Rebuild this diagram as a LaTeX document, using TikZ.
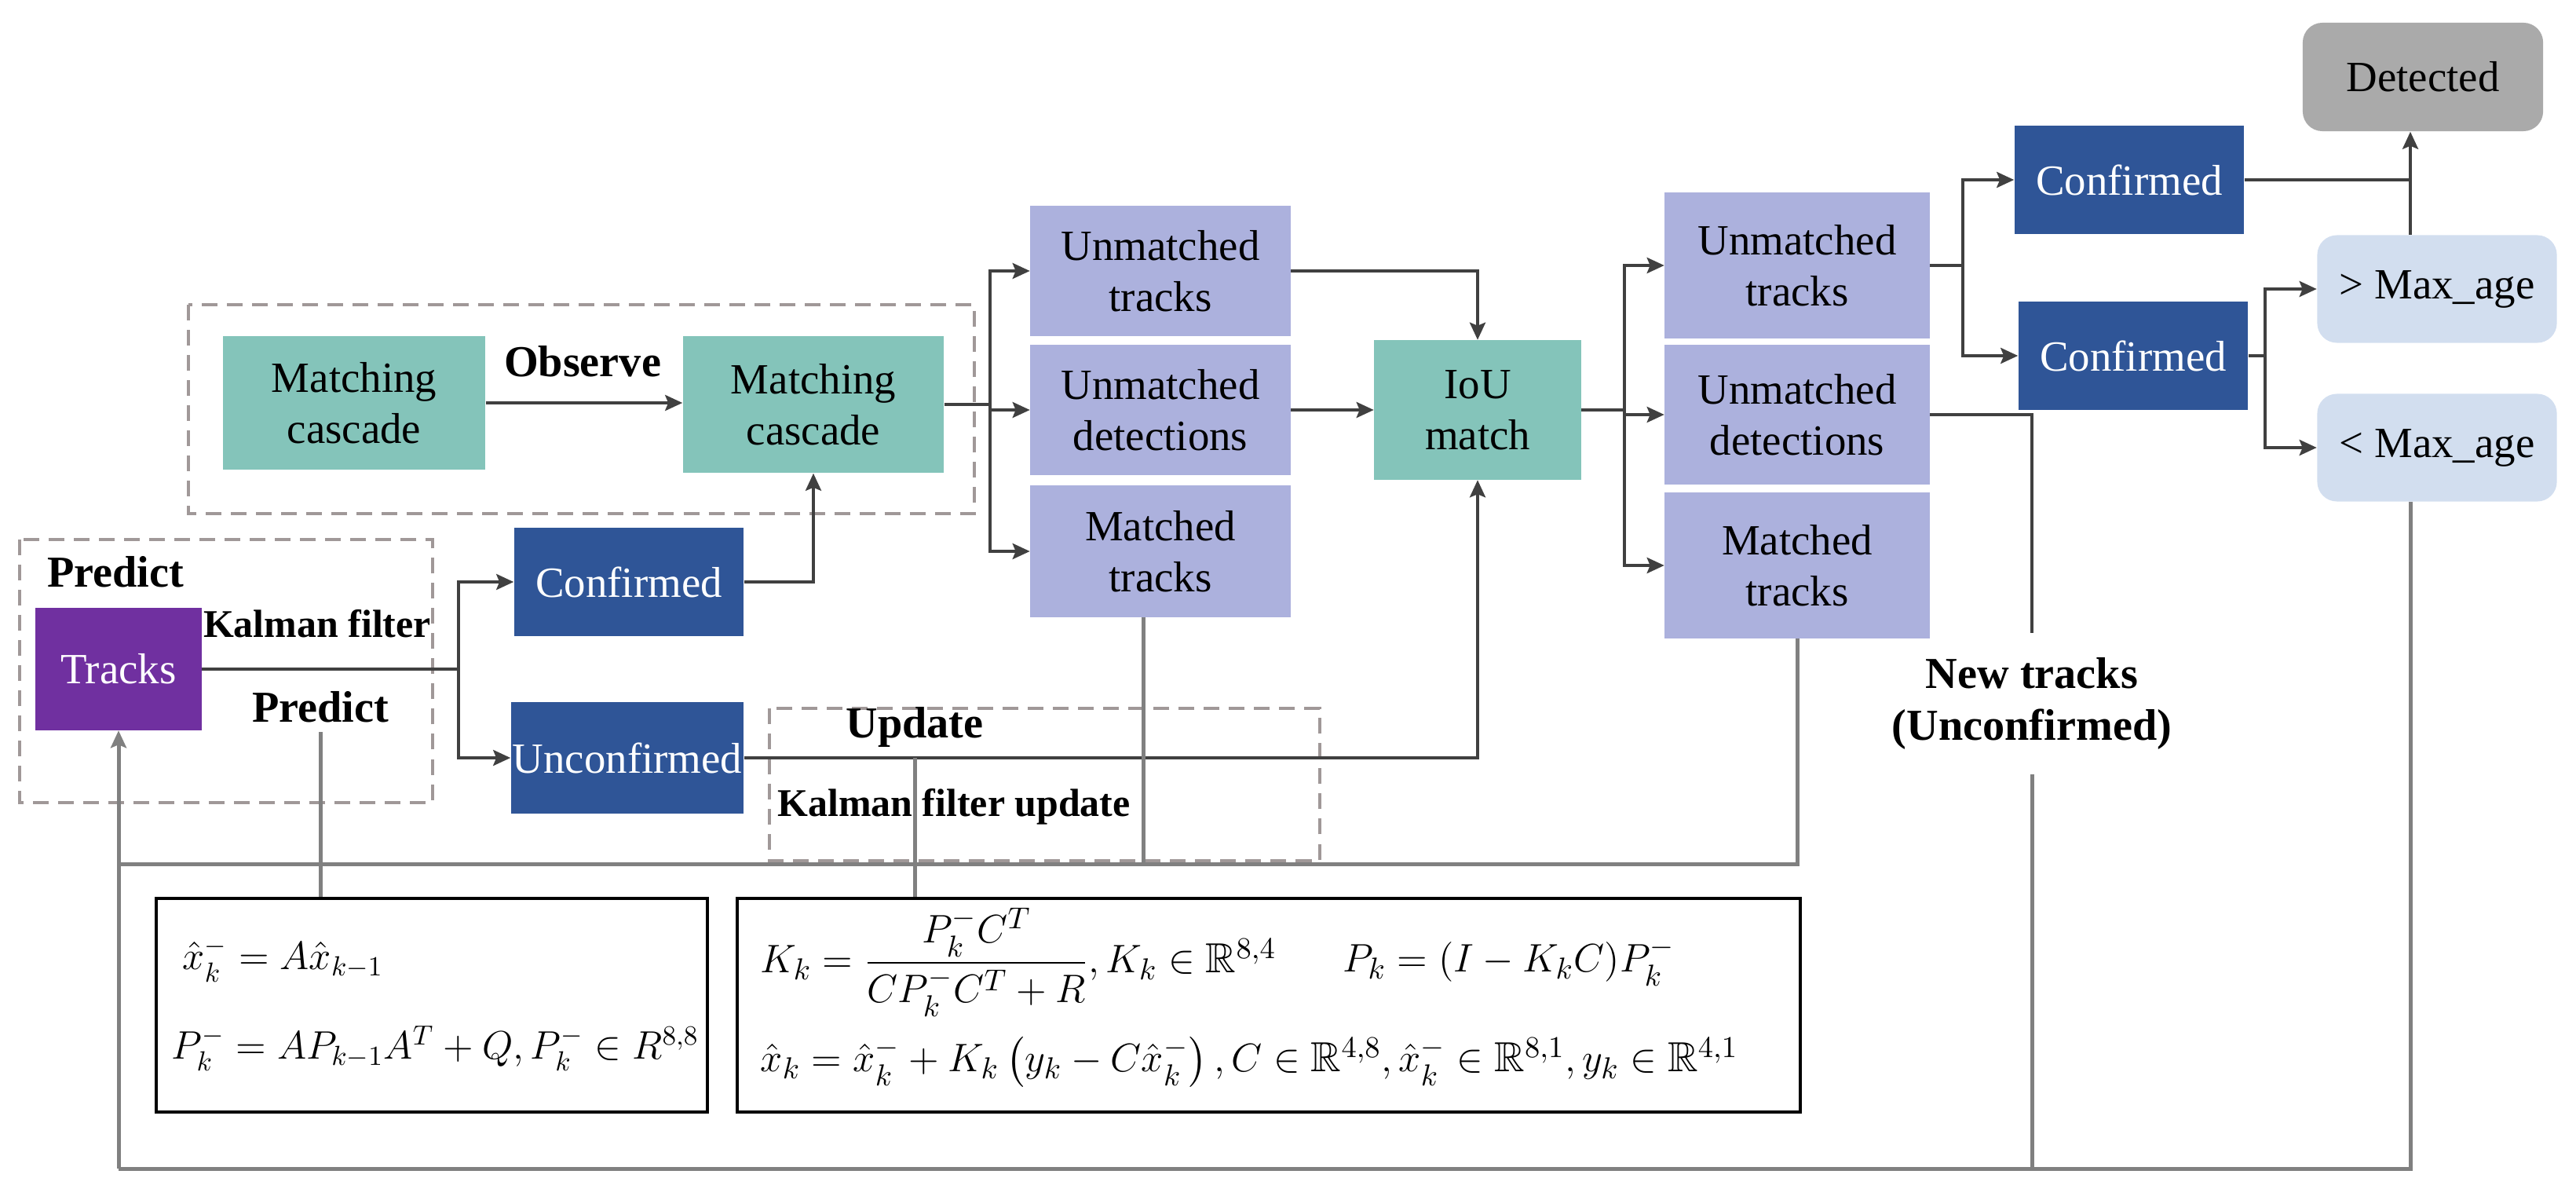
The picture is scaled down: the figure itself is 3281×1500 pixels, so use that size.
\documentclass[tikz,border=0pt]{standalone}
\usepackage{amsmath,amssymb}
\usepackage{fontspec}
\setmainfont{Liberation Serif}
\usetikzlibrary{arrows.meta,positioning}

\begin{document}
\begin{tikzpicture}[x=0.01cm,y=-0.01cm,
    every node/.style={font=\fontsize{15.6}{18.5}\selectfont},
    blk/.style={rectangle, inner sep=0pt, align=center},
    cascade/.style={blk, fill=mintcol},
    lav/.style={blk, fill=lilac},
    conf/.style={blk, fill=deepblue, text=white, minimum width=2.92cm, minimum height=1.38cm},
    age/.style={blk, fill=paleblue, rounded corners=0.25cm, minimum width=3.05cm, minimum height=1.37cm},
    lbl/.style={font=\fontsize{16}{19}\selectfont\bfseries},
    kfl/.style={font=\fontsize{14.2}{17}\selectfont\bfseries},
    mathf/.style={font=\fontsize{14.6}{18}\selectfont, inner sep=0pt, anchor=west},
    mathg/.style={mathf, font=\fontsize{15.2}{18}\selectfont},
    wire/.style={draw=arrowgrey, line width=0.04cm},
    link/.style={wire, -{Stealth[length=0.22cm,width=0.2cm,inset=0.04cm]}},
    back/.style={draw=linegrey, line width=0.05cm},
    frame/.style={draw=dashgrey, dash pattern=on 0.2cm off 0.12cm, line width=0.035cm}]
        \definecolor{mintcol}{RGB}{132, 196, 186}
        \definecolor{lilac}{RGB}{172, 177, 221}
        \definecolor{deepblue}{RGB}{47, 85, 151}
        \definecolor{trackpurple}{RGB}{112, 48, 160}
        \definecolor{paleblue}{RGB}{210, 222, 239}
        \definecolor{greybox}{RGB}{170, 170, 170}
        \definecolor{arrowgrey}{RGB}{64, 64, 64}
        \definecolor{linegrey}{RGB}{128, 128, 128}
        \definecolor{dashgrey}{RGB}{160, 152, 152}
        \useasboundingbox (0,0) rectangle (3281,1500);

        \draw[frame] (240,388) rectangle (1241,654);
        \draw[frame] (25,687) rectangle (551,1022);
        \draw[frame] (980,902) rectangle (1681,1096);

        \node[cascade, minimum width=3.34cm, minimum height=1.70cm] (mc1) at (451,513) {Matching\\cascade};
        \node[cascade, minimum width=3.32cm, minimum height=1.74cm] (mc2) at (1036,515) {Matching\\cascade};
        \node[lbl] (obs) at (742,460) {Observe};
        \node[lbl] (pred1) at (147,728) {Predict};
        \node[blk, fill=trackpurple, text=white, minimum width=2.11cm, minimum height=1.55cm] (tracks) at (151,852) {Tracks};
        \node[kfl] (kf) at (404,794) {Kalman filter};
        \node[lbl] (pred2) at (408,900) {Predict};
        \node[conf] (conf1) at (801,741) {Confirmed};
        \node[conf, minimum width=2.96cm, minimum height=1.42cm] (unconf) at (799,965) {Unconfirmed};
        \node[lbl] (upd) at (1165,926) {Update};
        \node[kfl] (kfu) at (1215,1027) {Kalman filter update};

        \node[lav, minimum width=3.31cm, minimum height=1.66cm] (ut1) at (1478,345) {Unmatched\\tracks};
        \node[lav, minimum width=3.31cm, minimum height=1.65cm] (ud1) at (1478,522) {Unmatched\\detections};
        \node[lav, minimum width=3.31cm, minimum height=1.67cm] (mt1) at (1478,702) {Matched\\tracks};
        \node[cascade, minimum width=2.63cm, minimum height=1.77cm] (iou) at (1882,522) {IoU\\match};
        \node[lav, minimum width=3.37cm, minimum height=1.85cm] (ut2) at (2289,338) {Unmatched\\tracks};
        \node[lav, minimum width=3.37cm, minimum height=1.77cm] (ud2) at (2289,528) {Unmatched\\detections};
        \node[lav, minimum width=3.37cm, minimum height=1.85cm] (mt2) at (2289,720) {Matched\\tracks};

        \node[conf] (conf2) at (2712,229) {Confirmed};
        \node[conf] (conf3) at (2717,453) {Confirmed};
        \node[blk, fill=greybox, rounded corners=0.25cm, minimum width=3.06cm, minimum height=1.38cm] (det) at (3086,98) {Detected};
        \node[age] (gt) at (3104,368) {> Max\_age};
        \node[age] (lt) at (3104,570) {< Max\_age};
        \node[lbl, align=center, inner sep=0.3cm] (newt) at (2588,896) {New tracks\\(Unconfirmed)};

        \node[draw, line width=0.04cm, minimum width=7.02cm, minimum height=2.72cm] (fb1) at (550,1280) {};
        \node[draw, line width=0.04cm, minimum width=13.54cm, minimum height=2.72cm] (fb2) at (1616,1280) {};
        \node[mathf] (e1) at (232,1222) {$\hat{x}_k^- = A\hat{x}_{k-1}$};
        \node[mathf] (e2) at (218,1335) {$P_k^- = AP_{k-1}A^T + Q, P_k^- \in R^{8,8}$};
        \node[mathg] (e3) at (968,1225) {$K_k = \dfrac{P_k^- C^T}{CP_k^- C^T + R}, K_k \in \mathbb{R}^{8,4}$};
        \node[mathg] (e4) at (1710,1225) {$P_k = (I - K_k C)P_k^-$};
        \node[mathg] (e5) at (968,1352) {$\hat{x}_k = \hat{x}_k^- + K_k\left(y_k - C\hat{x}_k^-\right), C \in \mathbb{R}^{4,8}, \hat{x}_k^- \in \mathbb{R}^{8,1}, y_k \in \mathbb{R}^{4,1}$};

        \coordinate (j0) at ([xshift=3.27cm]tracks.east);
        \coordinate (j1) at ([xshift=0.58cm]mc2.east);
        \coordinate (j2) at ([xshift=0.55cm]iou.east);
        \coordinate (j3) at ([xshift=0.42cm]ut2.east);
        \coordinate (j4) at ([xshift=0.21cm]conf3.east);
        \coordinate (r) at (3070,1488);
        \coordinate (bl) at (151,1488);
        \coordinate (fl) at (151,1100);
        \coordinate (m1) at ([xshift=-0.22cm]mt1.south);

        \draw[link] (mc1.east) -- (mc1.east -| mc2.west);
        \draw[wire] (tracks.east) -- (j0);
        \draw[link] (j0) |- (conf1.west);
        \draw[link] (j0) |- (unconf.west);
        \draw[link] (conf1.east) -| (mc2.south);
        \draw[wire] (mc2.east) -- (j1);
        \draw[link] (j1) |- (ut1.west);
        \draw[link] (j1) |- (ud1.west);
        \draw[link] (j1) |- (mt1.west);
        \draw[link] (ut1.east) -| (iou.north);
        \draw[link] (ud1.east) -- (iou.west);
        \draw[link] (unconf.east) -| (iou.south);
        \draw[wire] (iou.east) -- (j2);
        \draw[link] (j2) |- (ut2.west);
        \draw[link] (j2) |- (ud2.west);
        \draw[link] (j2) |- (mt2.west);
        \draw[wire] (ut2.east) -- (j3);
        \draw[link] (j3) |- (conf2.west);
        \draw[link] (j3) |- (conf3.west);
        \draw[wire] (conf3.east) -- (j4);
        \draw[link] (j4) |- (gt.west);
        \draw[link] (j4) |- (lt.west);
        \draw[wire] (conf2.east) -- (conf2.east -| r);
        \draw[link] (r |- gt.north) -- (r |- det.south);
        \draw[wire] (ud2.east) -| (newt.north);

        \draw[back] (pred2.south) -- (pred2.south |- fb1.north);
        \draw[back] (upd.south |- unconf.east) -- (upd.south |- fb2.north);
        \draw[back] (m1) -- (m1 |- fl);
        \draw[back] (mt2.south) |- (fl);
        \draw[back] (newt.south) -- (newt.south |- r);
        \draw[back] (r |- lt.south) -- (r) -- (bl);
        \draw[back, -{Stealth[length=0.22cm,width=0.2cm,inset=0.04cm]}] (bl) -- (tracks.south);
    \end{tikzpicture}
\end{document}
